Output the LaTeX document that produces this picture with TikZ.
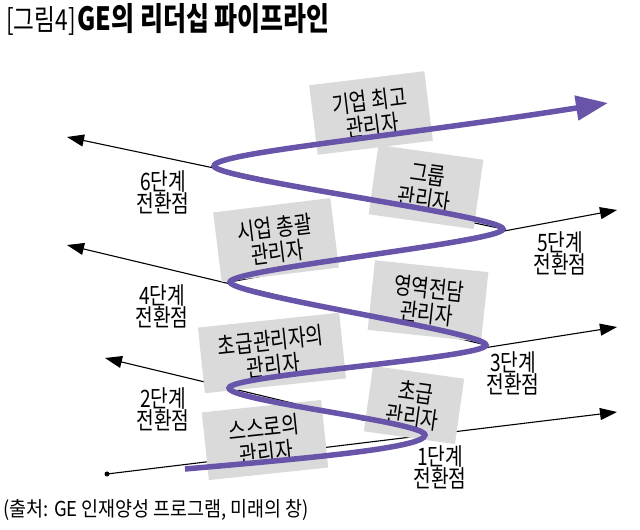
\documentclass[tikz,border=0pt]{standalone}
\usepackage{fontspec}
\setmainfont{Noto Sans CJK KR}[FakeStretch=0.8]
\newfontfamily\krtitle{Noto Sans CJK KR}[FakeStretch=0.78]
\newfontfamily\krsource{Noto Sans CJK KR}[FakeStretch=0.9]
\usetikzlibrary{arrows.meta, positioning}
\definecolor{pipepurple}{RGB}{104, 84, 168}
\definecolor{cardgray}{RGB}{218, 218, 218}

\begin{document}
\begin{tikzpicture}[
  x=1pt, y=1pt,
  card/.style={
    rectangle, fill=cardgray,
    minimum width=106pt, minimum height=70pt,
    align=center, inner sep=2pt,
    font=\fontsize{24}{25}\selectfont
  },
  stage/.style={align=center, font=\fontsize{24}{22}\selectfont},
  axis/.style={line width=1.1pt, -{Triangle[length=17pt, width=12pt]}},
  pipe/.style={line width=5.5pt, color=pipepurple},
  hairpin/.style={out=90, in=-90, out distance=13pt, in distance=13pt}
]
  \useasboundingbox (0,0) rectangle (640,530);

  % turning points of the pipeline
  \coordinate (start) at (185,61);
  \coordinate (t1) at (425,95);
  \coordinate (t2) at (229,142);
  \coordinate (t3) at (486,185);
  \coordinate (t4) at (230,248);
  \coordinate (t5) at (503,301);
  \coordinate (t6) at (214,364);
  \coordinate (top) at (608,427);
  % axis ends
  \coordinate (dot) at (107,56);
  \coordinate (a1) at (617,118);
  \coordinate (a2) at (105,172);
  \coordinate (a3) at (617,203);
  \coordinate (a4) at (67,285);
  \coordinate (a5) at (617,320);
  \coordinate (a6) at (67,393);

  \draw[axis] (dot) -- (a1);
  \fill (dot) circle (2.5pt);
  \draw[axis] (t1) -- (a2);
  \draw[axis] (t2) -- (a3);
  \draw[axis] (t3) -- (a4);
  \draw[axis] (t4) -- (a5);
  \draw[axis] (t5) -- (a6);

  \node[card, rotate=7, minimum width=116pt] (ceo) at (371,417) {기업 최고\\관리자};
  \node[card, rotate=-8] (group) at (426,343) {그룹\\관리자};
  \node[card, rotate=7, minimum width=118pt] (business) at (276,290) {시업 총괄\\관리자};
  \node[card, rotate=-6, minimum width=114pt] (function) at (428,229) {영역전담\\관리자};
  \node[card, rotate=6, minimum width=142pt, minimum height=66pt] (mgrs) at (272,177) {초급관리자의\\관리자};
  \node[card, rotate=-8, minimum width=92pt, minimum height=66pt] (first) at (414,125) {초급\\관리자};
  \node[card, rotate=6, minimum width=120pt, minimum height=68pt] (self) at (265,90) {스스로의\\관리자};

  \draw[pipe, -{Triangle[length=32pt, width=24pt]}]
    (start) to[out=5, in=-90, out distance=120pt, in distance=13pt] (t1)
    to[hairpin] (t2)
    to[hairpin] (t3)
    to[hairpin] (t4)
    to[hairpin] (t5)
    to[hairpin] (t6)
    to[out=90, in=189, out distance=13pt, in distance=220pt] (top);

  \node[stage] (s6) at (163,338) {6단계\\전환점};
  \node[stage] (s5) at (560,277) {5단계\\전환점};
  \node[stage] (s4) at (162,224) {4단계\\전환점};
  \node[stage] (s3) at (513,157) {3단계\\전환점};
  \node[stage] (s2) at (163,121) {2단계\\전환점};
  \node[stage] (s1) at (440,63) {1단계\\전환점};

  \node[anchor=west, inner sep=0pt] (title) at (6,511)
    {{\krtitle\fontsize{29}{30}\selectfont [그림4]}
     {\krtitle\bfseries\fontsize{32}{34}\selectfont GE의 리더십 파이프라인}};
  \node[anchor=west, inner sep=0pt, font=\krsource\fontsize{20.5}{22}\selectfont] (source) at (3,20)
    {(출처: GE 인재양성 프로그램, 미래의 창)};
\end{tikzpicture}
\end{document}
